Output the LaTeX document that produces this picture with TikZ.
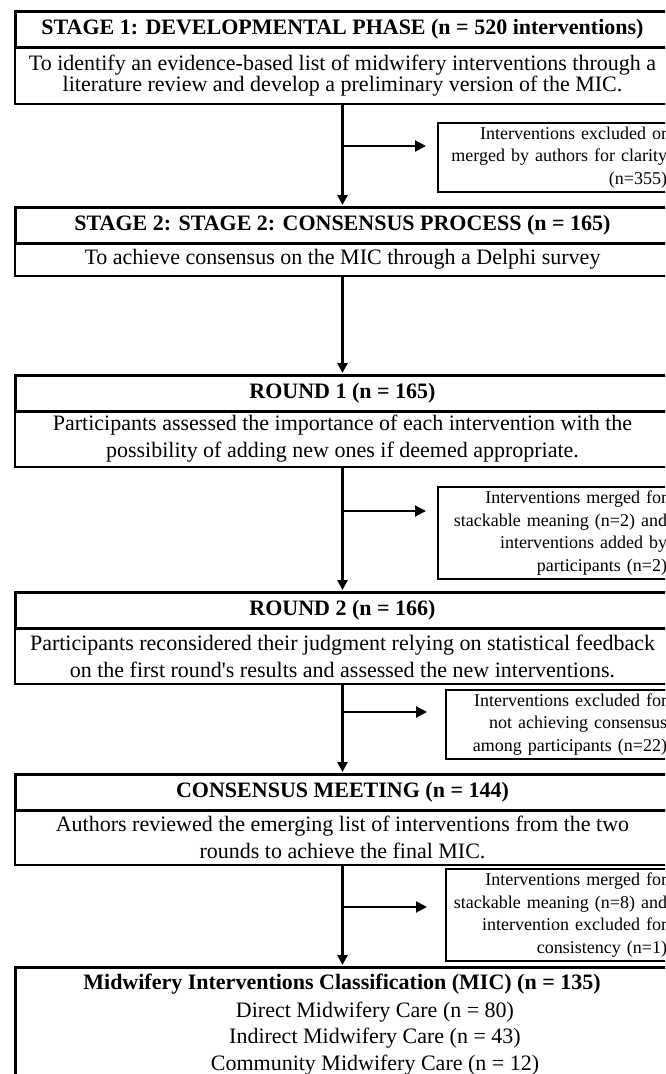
\documentclass[tikz,border=0pt]{standalone}
\usepackage{fontspec}
\setmainfont{Liberation Serif}
\usetikzlibrary{arrows.meta, positioning}

\tikzset{
    headbox/.style={draw, line width=3pt, outer sep=0pt, inner sep=0pt, minimum width=655pt, minimum height=36pt, font=\fontsize{22}{26}\selectfont\bfseries},
    descbox/.style={draw, line width=1.2pt, outer sep=0pt, inner sep=0pt, minimum width=655pt, align=center, font=\fontsize{22}{27}\selectfont},
    exbox/.style={draw, line width=1.2pt, outer sep=0pt, anchor=north west, inner xsep=4pt, inner ysep=0pt, align=right, font=\fontsize{18}{22.7}\selectfont},
    flow/.style={line width=2.5pt, -{Triangle[length=10pt, width=10pt]}, shorten >=2pt},
    side/.style={line width=2pt, -{Triangle[length=11pt, width=11pt]}},
}

\begin{document}
\begin{tikzpicture}[x=1pt, y=-1pt]

    \useasboundingbox (0,0) rectangle (665,1074);
    \clip (0,0) rectangle (665,1074);

    % Stages and rounds, one below the other
    \node[descbox, minimum height=57pt, font=\fontsize{22}{20}\selectfont] (s1d) at (342.5,75.5) {To identify an evidence-based list of midwifery interventions through a\\ literature review and develop a preliminary version of the MIC.};
    \node[headbox, above=0pt of s1d] (s1h) {STAGE 1: DEVELOPMENTAL PHASE (n = 520 interventions)};

    \node[descbox, minimum height=33pt] (s2d) at (342.5,259.5) {To achieve consensus on the MIC through a Delphi survey};
    \node[headbox, above=0pt of s2d] (s2h) {STAGE 2: STAGE 2: CONSENSUS PROCESS (n = 165)};

    \node[descbox, minimum height=56pt] (r1d) at (342.5,439) {Participants assessed the importance of each intervention with the\\ possibility of adding new ones if deemed appropriate.};
    \node[headbox, above=0pt of r1d] (r1h) {ROUND 1 (n = 165)};

    \node[descbox, minimum height=56pt] (r2d) at (342.5,656) {Participants reconsidered their judgment relying on statistical feedback\\ on the first round\textquotesingle s results and assessed the new interventions.};
    \node[headbox, above=0pt of r2d] (r2h) {ROUND 2 (n = 166)};

    \node[descbox, minimum height=55pt] (cmd) at (342.5,837.5) {Authors reviewed the emerging list of interventions from the two\\ rounds to achieve the final MIC.};
    \node[headbox, above=0pt of cmd] (cmh) {CONSENSUS MEETING (n = 144)};

    \node[headbox, minimum height=123pt] (mic) at (342.5,1028.5) {};
    \node[font=\fontsize{22}{26}\selectfont\bfseries] (mict) at (342,984) {Midwifery Interventions Classification (MIC) (n = 135)};
    \node[align=center, font=\fontsize{22}{26.5}\selectfont] (micl) at (375,1038.5) {Direct Midwifery Care (n = 80)\\ Indirect Midwifery Care (n = 43)\\ Community Midwifery Care (n = 12)};

    % Side boxes
    \node[exbox, text width=225pt, minimum height=69pt] (ex1) at (438,123) {Interventions excluded or\\ merged by authors for clarity\\ (n=355)};
    \node[exbox, text width=225pt, minimum height=92pt] (ex2) at (438,487) {Interventions merged for\\ stackable meaning (n=2) and\\ interventions added by\\ participants (n=2)};
    \node[exbox, text width=217pt, minimum height=69pt] (ex3) at (446,690) {Interventions excluded for\\ not achieving consensus\\ among participants (n=22)};
    \node[exbox, text width=217pt, minimum height=92pt] (ex4) at (446,869) {Interventions merged for\\ stackable meaning (n=8) and\\ intervention excluded for\\ consistency (n=1)};

    \coordinate (b1) at (342.5,146);
    \coordinate (b2) at (342.5,511);
    \coordinate (b3) at (342.5,712);
    \coordinate (b4) at (342.5,907);

    \draw[flow] (s1d) -- (s2h);
    \draw[flow] (s2d) -- (r1h);
    \draw[flow] (r1d) -- (r2h);
    \draw[flow] (r2d) -- (cmh);
    \draw[flow] (cmd) -- (mic);

    \draw[side, shorten >=12pt] (b1) -- (b1 -| ex1.west);
    \draw[side, shorten >=12pt] (b2) -- (b2 -| ex2.west);
    \draw[side, shorten >=19pt] (b3) -- (b3 -| ex3.west);
    \draw[side, shorten >=19pt] (b4) -- (b4 -| ex4.west);

\end{tikzpicture}
\end{document}
